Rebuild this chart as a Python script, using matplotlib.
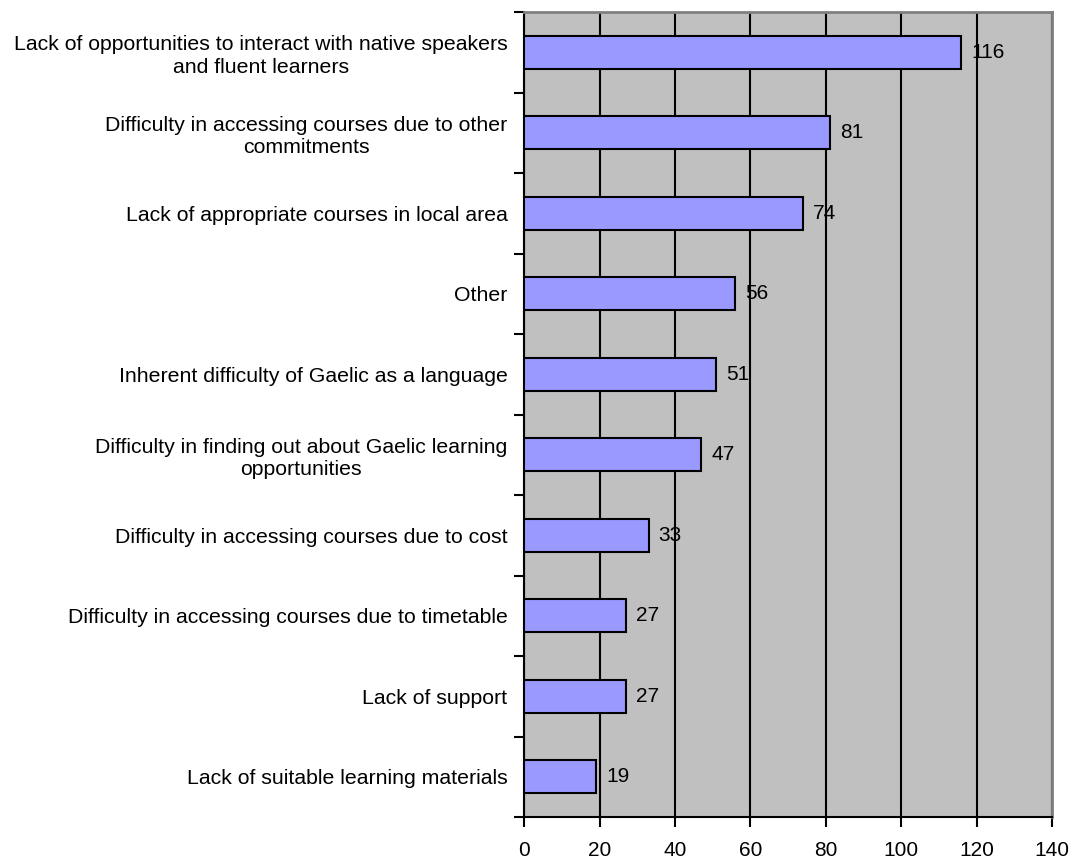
import numpy as np
import matplotlib.pyplot as plt

plt.rcParams['font.family'] = ['Liberation Sans', 'DejaVu Sans']

labels = [
    'Lack of opportunities to interact with native speakers\nand fluent learners',
    'Difficulty in accessing courses due to other\ncommitments',
    'Lack of appropriate courses in local area',
    'Other',
    'Inherent difficulty of Gaelic as a language',
    'Difficulty in finding out about Gaelic learning\nopportunities',
    'Difficulty in accessing courses due to cost',
    'Difficulty in accessing courses due to timetable',
    'Lack of support',
    'Lack of suitable learning materials',
]
values = [116, 81, 74, 56, 51, 47, 33, 27, 27, 19]

fig = plt.figure(figsize=(10.74, 8.6), dpi=100)
ax = fig.add_axes([0.488, 0.05, 0.4915, 0.936])
ax.set_facecolor('#C0C0C0')

y = np.arange(len(values))
ax.barh(y, values, height=0.41, color='#9999FF', edgecolor='black', linewidth=1.5, zorder=3)

for yi, v in zip(y, values):
    ax.text(v + 2.7, yi, str(v), va='center', ha='left', fontsize=15, zorder=4)

ax.set_xlim(0, 140)
ax.set_ylim(len(values) - 0.5, -0.5)
ax.set_xticks(np.arange(0, 141, 20))
ax.xaxis.grid(True, color='black', linewidth=1.5, zorder=1)
ax.set_axisbelow(True)

ax.set_yticks(np.arange(-0.5, len(values), 1))
ax.set_yticklabels([])
ax.set_yticks(y, minor=True)
ax.set_yticklabels(labels, minor=True, fontsize=15.3, multialignment='center', linespacing=1.22)
ax.tick_params(axis='y', which='minor', length=0, pad=12)
ax.tick_params(axis='y', which='major', length=7, width=1.5, direction='out')
ax.tick_params(axis='x', length=7, width=1.5, direction='out', labelsize=15, pad=10)

for side in ['left', 'bottom']:
    ax.spines[side].set_linewidth(1.5)
    ax.spines[side].set_color('black')
for side in ['top', 'right']:
    ax.spines[side].set_linewidth(2)
    ax.spines[side].set_color('#808080')

fig.savefig('out.png', dpi=100)
